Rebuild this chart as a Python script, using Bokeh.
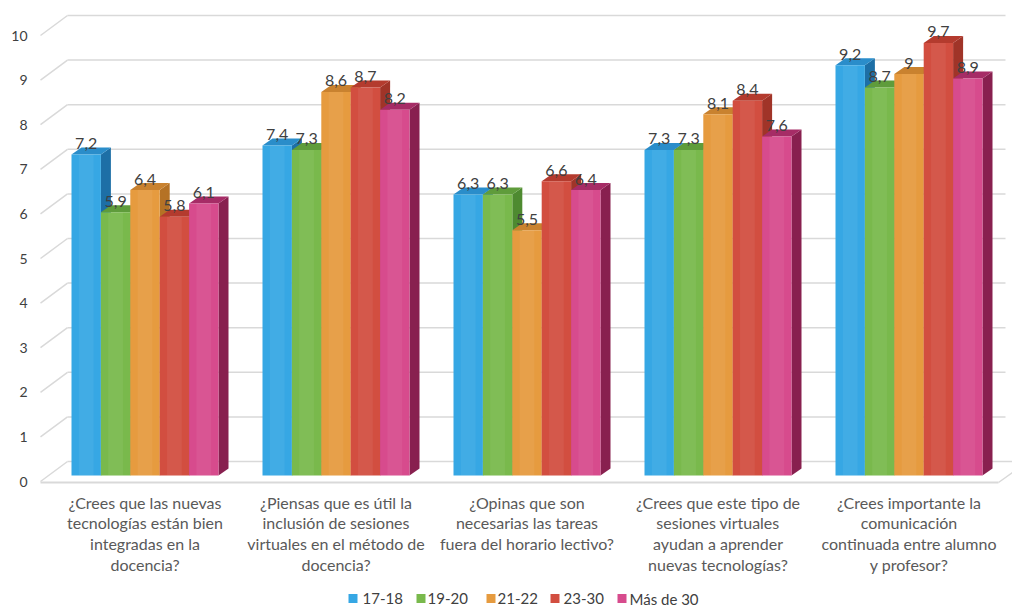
from bokeh.plotting import figure
from bokeh.models import Range1d
from bokeh.core.properties import value
from bokeh.embed import file_html
from bokeh.resources import INLINE

categories = [
    "¿Crees que las nuevas\ntecnologías están bien\nintegradas en la\ndocencia?",
    "¿Piensas que es útil la\ninclusión de sesiones\nvirtuales en el método de\ndocencia?",
    "¿Opinas que son\nnecesarias las tareas\nfuera del horario lectivo?",
    "¿Crees que este tipo de\nsesiones virtuales\nayudan a aprender\nnuevas tecnologías?",
    "¿Crees importante la\ncomunicación\ncontinuada entre alumno\ny profesor?",
]
series_names = ["17-18", "19-20", "21-22", "23-30", "Más de 30"]
v_17_18 = [7.2, 7.4, 6.3, 7.3, 9.2]
v_19_20 = [5.9, 7.3, 6.3, 7.3, 8.7]
v_21_22 = [6.4, 8.6, 5.5, 8.1, 9.0]
v_23_30 = [5.8, 8.7, 6.6, 8.4, 9.7]
v_mas_30 = [6.1, 8.2, 6.4, 7.6, 8.9]
series_values = [v_17_18, v_19_20, v_21_22, v_23_30, v_mas_30]
y_ticks = list(range(0, 11))

front_colors = ["#36A7E4", "#79B94C", "#E69B3F", "#D24E40", "#D74B8D"]
side_colors = ["#1D6FA6", "#4E8A30", "#B57225", "#A03428", "#88204F"]
top_colors = ["#2A8DCA", "#5F9C3B", "#C9822F", "#B43B2E", "#A62C66"]

W, H = 1012, 606
PX0, SX = 49.0, 191.0      # pixel x of category origin, pixels per category
PY0, SY = 475.0, 44.6      # pixel y (from top) of value 0, pixels per unit


def xd(px):
    return (px - PX0) / SX


def yd(py):
    return (PY0 - py) / SY


p = figure(width=W, height=H, output_backend="svg", toolbar_location=None,
           x_range=Range1d(xd(0), xd(W)), y_range=Range1d(yd(H), yd(0)),
           min_border=0, border_fill_color="white", background_fill_color="white")
p.axis.visible = False
p.grid.visible = False
p.outline_line_color = None

grid_col = "#d9d9d9"
# back wall gridlines and side diagonals
back_dy = 14 / SY
front_dy = -6 / SY
gx0, gx1 = xd(67), xd(1005)
for t in y_ticks[1:]:
    p.line([gx0, gx1], [t + back_dy, t + back_dy], line_color=grid_col, line_width=1.5)
for t in y_ticks:
    p.line([xd(40), gx0], [t + front_dy, t + back_dy], line_color=grid_col, line_width=1.5)
# floor
p.line([gx0, xd(1012)], [back_dy, back_dy], line_color=grid_col, line_width=1.5)
p.line([xd(40), xd(998)], [yd(482), yd(482)], line_color=grid_col, line_width=2)
p.line([xd(998), xd(1012)], [yd(482), yd(472)], line_color=grid_col, line_width=1.5)

# y tick labels
p.text(x=[xd(27)] * len(y_ticks), y=[t + front_dy for t in y_ticks],
       text=[str(t) for t in y_ticks], text_align="right", text_baseline="middle",
       text_font=value("Lato"), text_font_size="14px", text_color="#404040")

# bars
bw = 29.4 / SX
ddx, ddy = 10 / SX, 7 / SY
g_left = 0.5 - 2.5 * bw
lab_x, lab_y, lab_t = [], [], []
for i in range(len(categories)):
    for j, vals in enumerate(series_values):
        v = vals[i]
        l = i + g_left + j * bw
        r = l + bw
        p.patch([r, r + ddx, r + ddx, r], [0, ddy, v + ddy, v],
                fill_color=side_colors[j], line_color=None)
        p.patch([l, r, r + ddx, l + ddx], [v, v, v + ddy, v + ddy],
                fill_color=top_colors[j], line_color=None)
        p.quad(left=l, right=r, bottom=0, top=v, fill_color=front_colors[j], line_color=None)
        # light stripe in the middle of the front face
        p.quad(left=l + bw * 0.25, right=r - bw * 0.25, bottom=0, top=v,
               fill_color="white", fill_alpha=0.06, line_color=None)
        lab_x.append(l + bw / 2)
        lab_y.append(v + 5.5 / SY)
        s = ("%g" % v).replace(".", ",")
        lab_t.append(s)

p.text(x=lab_x, y=lab_y, text=lab_t, text_align="center", text_baseline="bottom",
       text_font=value("Lato"), text_font_size="16px", text_color="#404040")

# category labels
p.text(x=[i + 0.5 for i in range(len(categories))], y=[yd(492)] * len(categories),
       text=categories, text_align="center", text_baseline="top",
       text_font=value("Lato"), text_font_size="16px", text_color="#595959",
       text_line_height=1.1)

# legend
sq_px = [352.5, 420.5, 490.5, 554.5, 621.5]
tx_px = [362, 427, 497, 563, 629]
ly = yd(598)
p.scatter(x=[xd(v) for v in sq_px], y=[ly] * 5, marker="square", size=9,
          fill_color=front_colors, line_color=None)
p.text(x=[xd(v) for v in tx_px], y=[ly] * 5, text=series_names, text_align="left",
       text_baseline="middle", text_font=value("Lato"), text_font_size="15px",
       text_color="#404040")

open("out.html", "w").write(file_html(p, INLINE))
